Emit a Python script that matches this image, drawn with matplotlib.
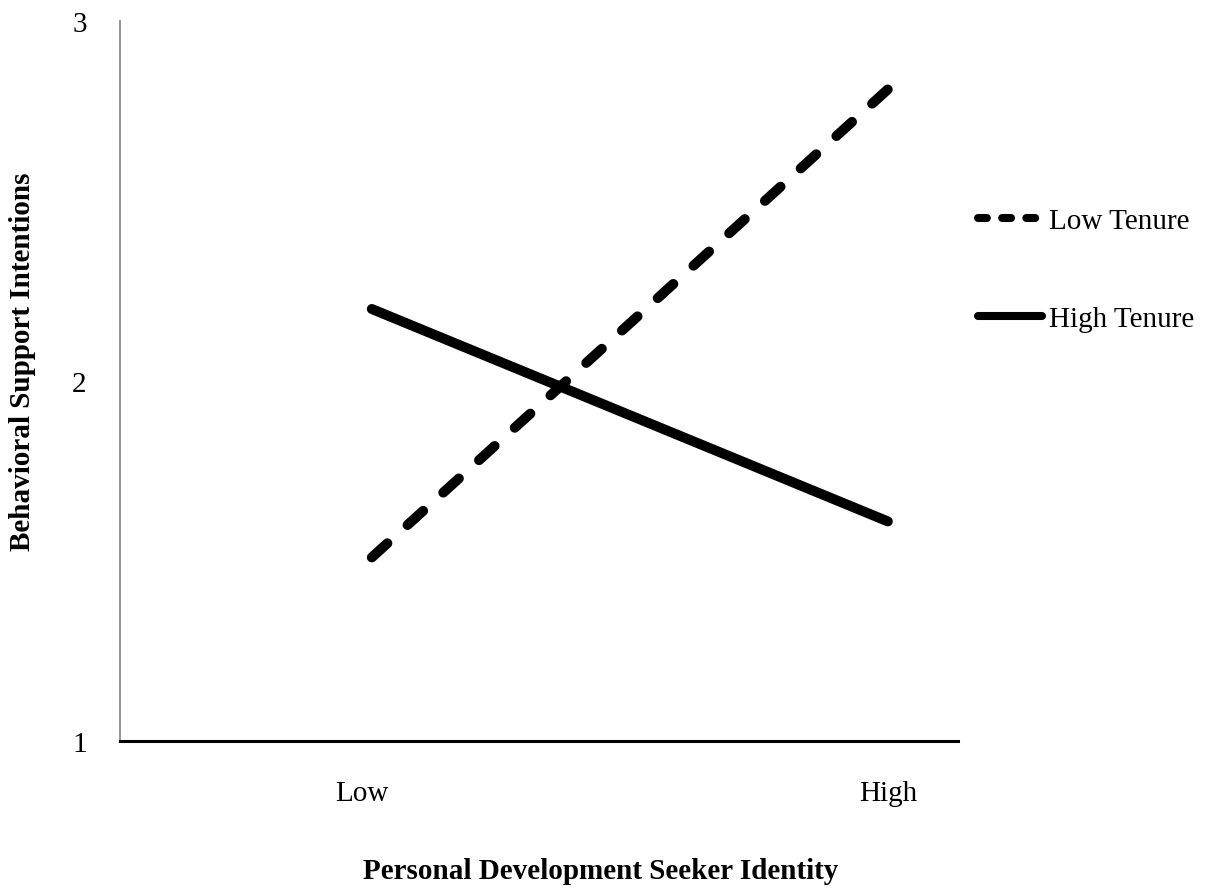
import matplotlib
matplotlib.use("Agg")
import matplotlib.pyplot as plt
from matplotlib.lines import Line2D
import matplotlib.transforms as mtransforms

categories = ["Low", "High"]
low_tenure = [1.51, 2.81]
high_tenure = [2.20, 1.61]
series_labels = ["Low Tenure", "High Tenure"]
y_ticks = [1, 2, 3]

plt.rcParams['font.family'] = ['Liberation Serif', 'DejaVu Serif']
FS = 21

fig = plt.figure(figsize=(12.11, 8.95), dpi=100)
W, H = 1211, 895
left, right, top, bottom = 120, 958, 22, 742
ax = fig.add_axes([left / W, 1 - bottom / H, (right - left) / W, (bottom - top) / H])

x = list(range(len(categories)))
lw = 7.2
ax.plot(x, low_tenure, color='black', lw=lw, dashes=(2.1, 2.725),
        dash_capstyle='round', solid_capstyle='round')
ax.plot(x, high_tenure, color='black', lw=lw, solid_capstyle='round')

ax.set_xlim(-0.488, 1.136)
ax.set_ylim(1, 3)
ax.set_yticks(y_ticks)
ax.set_yticklabels([str(v) for v in y_ticks], fontsize=FS)
ax.set_xticks(x)
ax.set_xticklabels(categories, fontsize=FS)
ax.tick_params(axis='both', length=0)
ax.tick_params(axis='y', pad=24)
ax.tick_params(axis='x', pad=28)
# shift "Low" label slightly left
lbl = ax.get_xticklabels()[0]
lbl.set_transform(lbl.get_transform() + mtransforms.ScaledTranslation(-10 / 100, 0, fig.dpi_scale_trans))

for s in ['top', 'right']:
    ax.spines[s].set_visible(False)
ax.spines['left'].set_color('#8c8c8c')
ax.spines['left'].set_linewidth(1.3)
ax.spines['bottom'].set_color('black')
ax.spines['bottom'].set_linewidth(2.2)

fig.text(601 / W, 1 - 872 / H, "Personal Development Seeker Identity", fontsize=FS,
         fontweight='bold', ha='center', va='center')
fig.text(23 / W, 1 - 362 / H, "Behavioral Support Intentions", fontsize=FS,
         fontweight='bold', ha='center', va='center', rotation=90)

handles = [Line2D([0], [0], color='black', lw=5.8, dashes=(1.1, 1.9), dash_capstyle='round'),
           Line2D([0], [0], color='black', lw=5.8, solid_capstyle='round')]
fig.legend(handles, series_labels, loc='upper left',
           bbox_to_anchor=(978 / W, 1 - 209 / H), frameon=False, fontsize=21,
           handlelength=2.2, handletextpad=0.25, labelspacing=2.45, borderpad=0,
           borderaxespad=0)

fig.savefig("out.png", dpi=100)
